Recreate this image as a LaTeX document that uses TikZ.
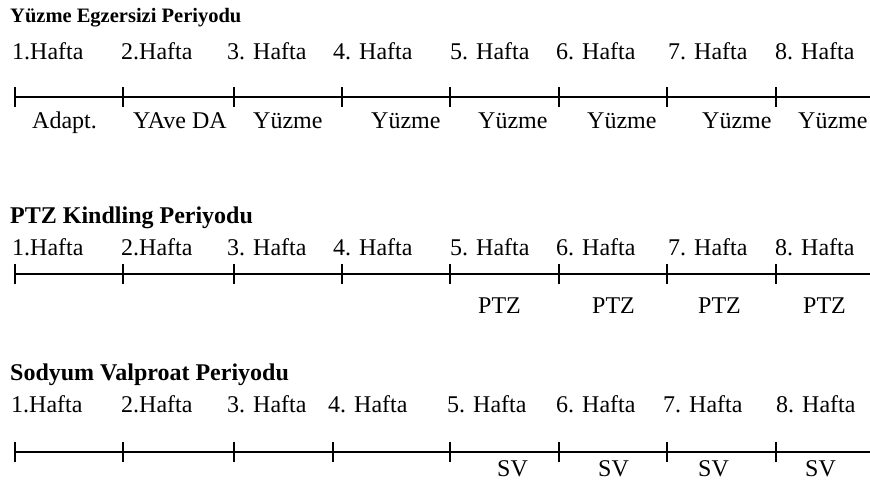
\documentclass[tikz,border=0pt]{standalone}
\usepackage{fontspec}
\setmainfont{Liberation Serif}
\begin{document}
\begin{tikzpicture}[x=1pt,y=-1pt,
  titletext/.style={anchor=base west,inner sep=0pt,font=\fontsize{24}{28}\selectfont\bfseries},
  weektext/.style={anchor=base west,inner sep=0pt,font=\fontsize{24}{28}\selectfont},
  phasetext/.style={anchor=base west,inner sep=0pt,font=\fontsize{24}{28}\selectfont},
  axis/.style={line width=2pt},
  tickmark/.style={line width=1.8pt}]
\useasboundingbox (0,0) rectangle (870,485);

% ---------- Swimming exercise period ----------
\node[titletext,font=\fontsize{20.5}{24}\selectfont\bfseries] (t1) at (10,22) {Yüzme Egzersizi Periyodu};
\foreach \x/\lab [count=\i] in {12/1.Hafta,121/2.Hafta,227/3. Hafta,333/4. Hafta,450/5. Hafta,556/6. Hafta,668/7. Hafta,775/8. Hafta}
  \node[weektext] (a\i) at (\x,59) {\lab};
\coordinate (a0s) at (15,97);
\coordinate (a0e) at (870,97);
\draw[axis] (a0s) -- (a0e);
\foreach \x [count=\i] in {15,123,234,342,450,559,667,776}{
  \coordinate (ak\i) at (\x,97);
  \draw[tickmark] ([yshift=-10pt]ak\i) -- ([yshift=10pt]ak\i);
}
\foreach \x/\lab [count=\i] in {32/Adapt.,133/YAve DA,253/Yüzme,371/Yüzme,478/Yüzme,587/Yüzme,702/Yüzme,798/Yüzme}
  \node[phasetext] (ap\i) at (\x,128) {\lab};

% ---------- PTZ kindling period ----------
\node[titletext] (t2) at (10,223) {PTZ Kindling Periyodu};
\foreach \x/\lab [count=\i] in {12/1.Hafta,121/2.Hafta,227/3. Hafta,333/4. Hafta,450/5. Hafta,556/6. Hafta,668/7. Hafta,775/8. Hafta}
  \node[weektext] (b\i) at (\x,255) {\lab};
\coordinate (b0s) at (15,274);
\coordinate (b0e) at (870,274);
\draw[axis] (b0s) -- (b0e);
\foreach \x [count=\i] in {15,123,234,342,450,559,667,776}{
  \coordinate (bk\i) at (\x,274);
  \draw[tickmark] ([yshift=-10pt]bk\i) -- ([yshift=10pt]bk\i);
}
\foreach \x [count=\i] in {478,592,698,803}
  \node[phasetext] (bp\i) at (\x,313) {PTZ};

% ---------- Sodium valproate period ----------
\node[titletext] (t3) at (10,380) {Sodyum Valproat Periyodu};
\foreach \x/\lab [count=\i] in {11/1.Hafta,121/2.Hafta,227/3. Hafta,328/4. Hafta,447/5. Hafta,556/6. Hafta,663/7. Hafta,776/8. Hafta}
  \node[weektext] (c\i) at (\x,412) {\lab};
\coordinate (c0s) at (15,452);
\coordinate (c0e) at (870,452);
\draw[axis] (c0s) -- (c0e);
\foreach \x [count=\i] in {15,123,234,333,450,559,667,776}{
  \coordinate (ck\i) at (\x,452);
  \draw[tickmark] ([yshift=-10pt]ck\i) -- ([yshift=10pt]ck\i);
}
\foreach \x [count=\i] in {497,598,698,805}
  \node[phasetext] (cp\i) at (\x,476) {SV};
\end{tikzpicture}
\end{document}
